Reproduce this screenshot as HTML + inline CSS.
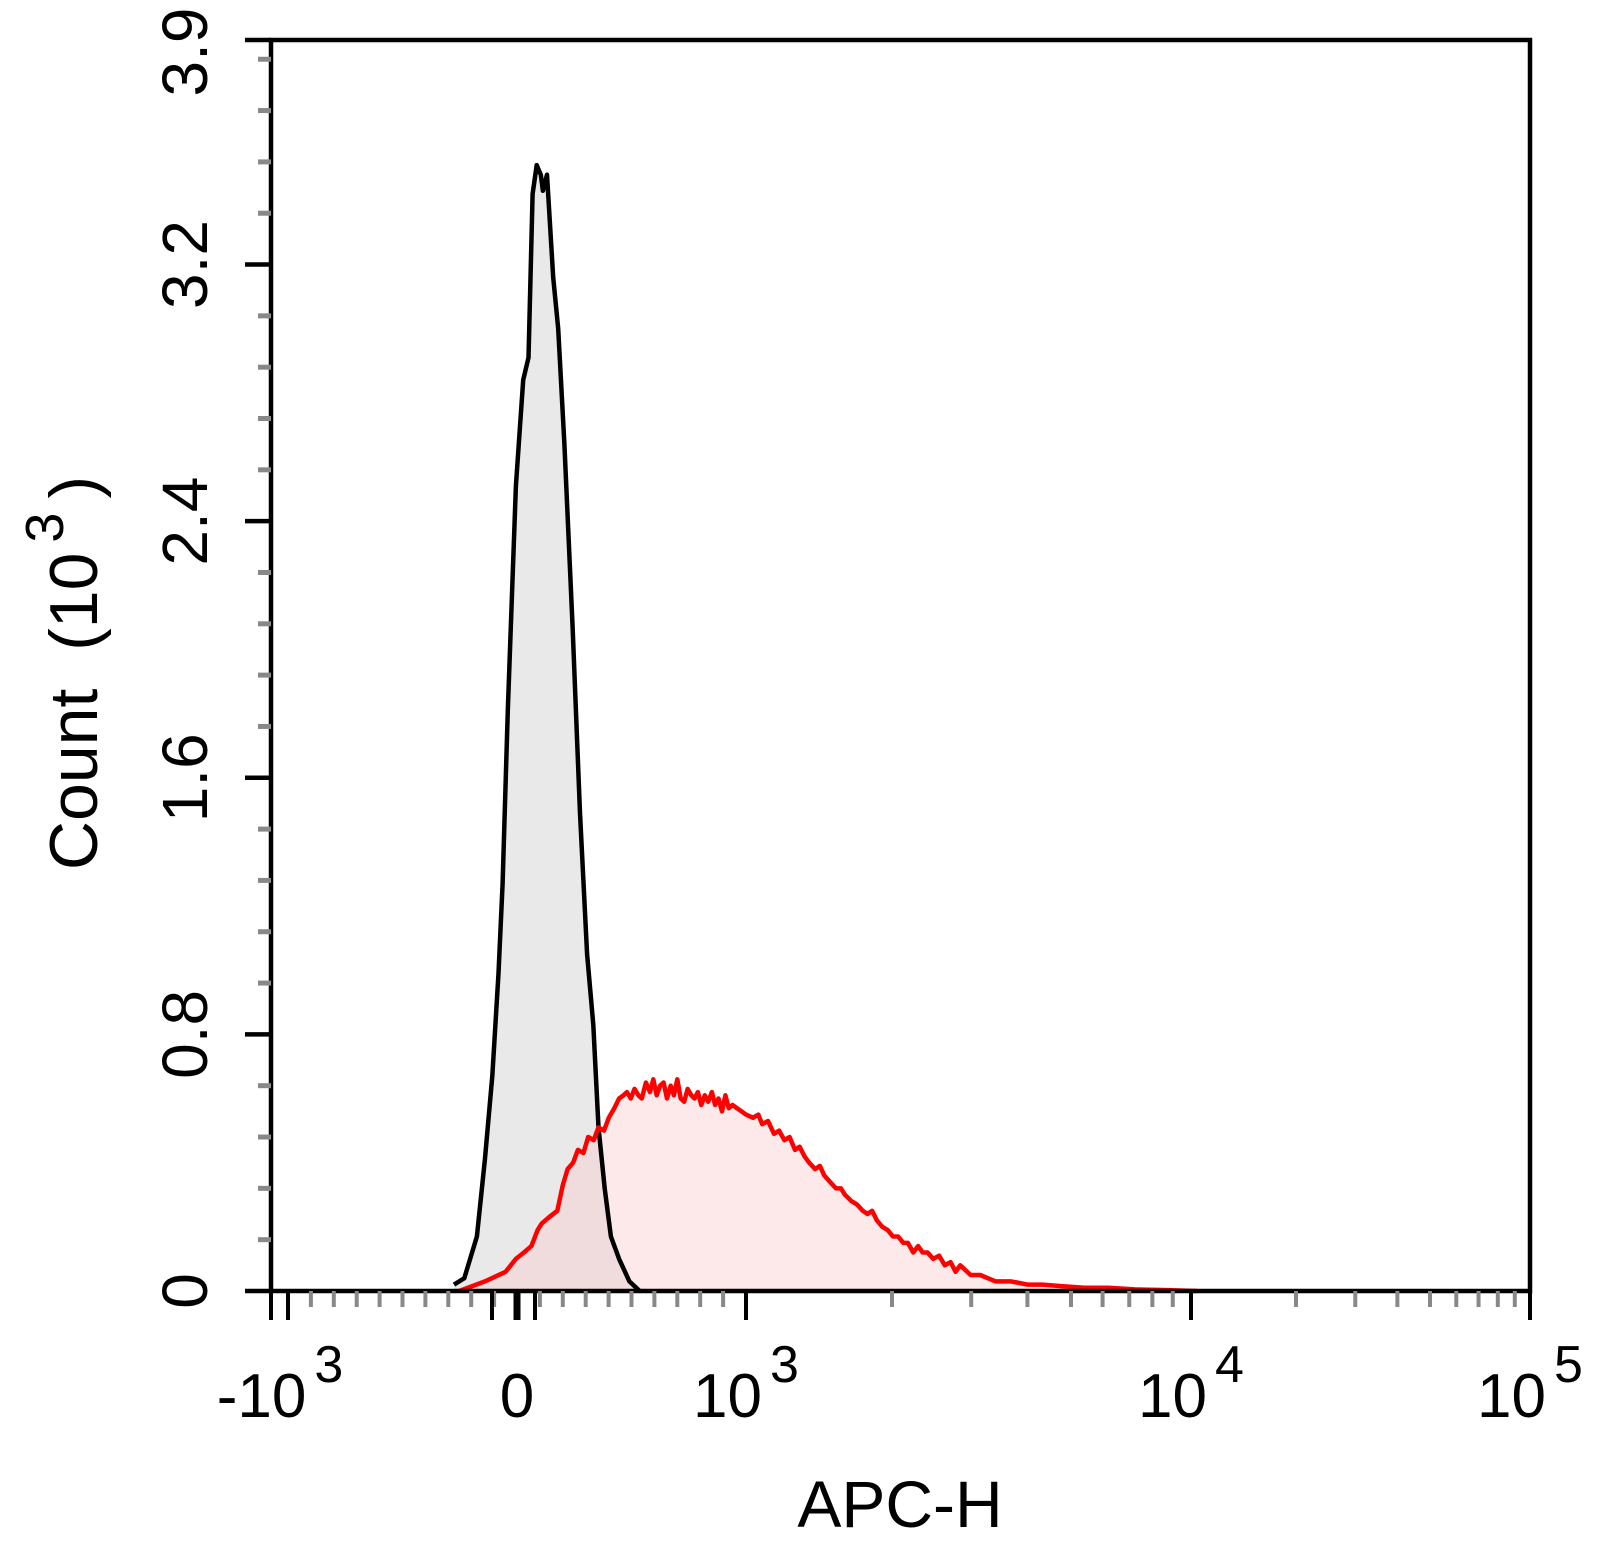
<!DOCTYPE html>
<html><head><meta charset="utf-8"><style>
html,body{margin:0;padding:0;background:#fff;}
svg{display:block;font-family:"Liberation Sans",Arial,sans-serif;}
</style></head><body>
<svg id="chart" width="1610" height="1558" viewBox="0 0 1610 1558" xmlns="http://www.w3.org/2000/svg">
<g id="fills"></g>
<g id="lines"></g>
<g id="axes"></g>
<g id="labels"></g>
</svg>
<script>
// ---- data ----
const blackX = [-275,-230,-175,-140,-108,-81,-63,-40,-5,27,50,68,86,104,113,131,158,180,207,243,275,306,333,356,383,410,446,491,536];
const blackY = [0.02,0.04,0.17,0.41,0.67,0.99,1.27,1.81,2.51,2.84,2.91,3.42,3.51,3.48,3.43,3.48,3.16,3.0,2.64,2.07,1.49,1.05,0.83,0.51,0.32,0.17,0.10,0.03,0.0];
const redX = [-252,-140,-50,-5,30,63,90,108,140,176,200,221,245,266,290,311,335,356,380,401,425,446,465,480,497,513,530,545,563,581,595,610,625,640,655,671,685,700,715,730,745,761,775,790,805,820,835,851,865,880,895,910,925,941,1000,1034,1060,1080,1110,1142,1170,1200,1230,1262,1290,1320,1350,1388,1420,1450,1490,1534,1570,1600,1650,1693,1740,1780,1820,1862,1910,1960,2010,2063,2120,2170,2230,2286,2340,2400,2470,2545,2620,2700,2770,2836,2990,3141,3400,3681,4000,4315,4800,5395,6200,7230,8500,10400];
const redY = [0,0.03,0.06,0.10,0.12,0.14,0.19,0.21,0.23,0.25,0.33,0.38,0.40,0.44,0.43,0.48,0.47,0.51,0.50,0.54,0.57,0.60,0.61,0.62,0.60,0.63,0.61,0.60,0.65,0.62,0.66,0.61,0.64,0.65,0.60,0.64,0.61,0.66,0.60,0.59,0.63,0.61,0.60,0.62,0.58,0.61,0.59,0.62,0.58,0.60,0.56,0.61,0.57,0.58,0.55,0.54,0.55,0.52,0.53,0.49,0.50,0.47,0.48,0.44,0.45,0.42,0.40,0.38,0.39,0.36,0.34,0.32,0.32,0.30,0.28,0.27,0.25,0.24,0.25,0.22,0.20,0.19,0.17,0.17,0.15,0.15,0.12,0.14,0.12,0.12,0.10,0.11,0.08,0.09,0.06,0.08,0.05,0.05,0.03,0.03,0.02,0.02,0.015,0.01,0.01,0.005,0.003,0];
const yTicks = [0,0.8,1.6,2.4,3.2];
const yTickLabels = ["0","0.8","1.6","2.4","3.2"];
const xMajor = [-1000,0,1000,10000,100000];
const xMajorBase = ["-10","0","10","10","10"];
const xMajorExp = ["3","","3","4","5"];
const xMinor = [-900,-800,-700,-600,-500,-400,-300,-200,-100,100,200,300,400,500,600,700,800,900,2000,3000,4000,5000,6000,7000,8000,9000,20000,30000,40000,50000,60000,70000,80000,90000];

// ---- scales ----
const X0=271, X1=1530, Y0=1291, Y1=40, YMAX=3.9;
const logAnchors=[[3,746],[Math.log10(2000),892],[Math.log10(5000),1071],[4,1191],[Math.log10(20000),1296],[Math.log10(50000),1430],[5,1530]];
function xs(v){
  if(v<=1000) return 517+v*0.229;
  const l=Math.log10(v);
  for(let i=0;i<logAnchors.length-1;i++){
    const a=logAnchors[i],b=logAnchors[i+1];
    if(l<=b[0]) return a[1]+(l-a[0])/(b[0]-a[0])*(b[1]-a[1]);
  }
  return X1;
}
function ys(v){return Y0-(v/YMAX)*(Y0-Y1);}
const NS="http://www.w3.org/2000/svg";
function mk(tag,attrs,parent){const e=document.createElementNS(NS,tag);for(const k in attrs)e.setAttribute(k,attrs[k]);parent.appendChild(e);return e;}
const gF=document.getElementById('fills'),gL=document.getElementById('lines'),gA=document.getElementById('axes'),gT=document.getElementById('labels');

function series(xa,ya,fill,stroke,name){
  let d='M'+xs(xa[0]).toFixed(1)+','+Y0;
  for(let i=0;i<xa.length;i++) d+=' L'+xs(xa[i]).toFixed(1)+','+ys(ya[i]).toFixed(1);
  d+=' L'+xs(xa[xa.length-1]).toFixed(1)+','+Y0+' Z';
  const f=mk('path',{d:d,fill:fill,stroke:'none'},gF);
  
  
  let d2='';
  for(let i=0;i<xa.length;i++) d2+=(i?' L':'M')+xs(xa[i]).toFixed(1)+','+ys(ya[i]).toFixed(1);
  const l=mk('path',{d:d2,fill:'none',stroke:stroke,'stroke-width':4.5,'stroke-linejoin':'round'},gL);
  
  
}
series(blackX,blackY,'rgba(200,200,200,0.4)','#000','control-histogram');
series(redX,redY,'rgba(250,200,200,0.4)','#f00','sample-histogram');

// frame
const fr=mk('rect',{x:X0,y:Y1,width:X1-X0,height:Y0-Y1,fill:'none',stroke:'#000','stroke-width':4.5},gA);


mk('line',{x1:245,y1:Y1,x2:X0,y2:Y1,stroke:'#000','stroke-width':4.5},gA);
mk('line',{x1:X0,y1:Y0,x2:X0,y2:1320,stroke:'#000','stroke-width':4},gA);
mk('line',{x1:X1,y1:Y0,x2:X1,y2:1320,stroke:'#000','stroke-width':4},gA);

// y ticks
for(let i=0;i<yTicks.length;i++){
  const y=ys(yTicks[i]);
  mk('line',{x1:245,y1:y,x2:X0,y2:y,stroke:'#000','stroke-width':4.5},gA);
  const t=mk('text',{x:0,y:0,'font-size':64,'text-anchor':'middle',transform:'translate(207,'+y+') rotate(-90)'},gT);
  t.textContent=yTickLabels[i];
  
  
}
const t39=mk('text',{x:0,y:0,'font-size':64,'text-anchor':'middle',transform:'translate(207,52) rotate(-90)'},gT);
t39.textContent='3.9';


for(let v=0.16;v<YMAX;v+=0.16){
  if(Math.abs(v/0.8-Math.round(v/0.8))<0.01) continue;
  mk('line',{x1:258,y1:ys(v),x2:X0,y2:ys(v),stroke:'#888','stroke-width':5},gA);
}
// x ticks
for(const v of xMinor){
  mk('line',{x1:xs(v),y1:Y0,x2:xs(v),y2:1307,stroke:'#888','stroke-width':4},gA);
}
for(let i=0;i<xMajor.length;i++){
  const x=xs(xMajor[i]);
  mk('line',{x1:x,y1:Y0,x2:x,y2:1320,stroke:'#000','stroke-width':xMajor[i]===0?7:4},gA);
  const t=mk('text',{x:x-(xMajor[i]<0?8:0),y:1417,'font-size':62,'text-anchor':'middle'},gT);
  
  
  t.textContent=xMajorBase[i];
  if(xMajorExp[i]){
    const s=mk('tspan',{dx:8,dy:-35,'font-size':52},t);
    s.textContent=xMajorExp[i];
  }
}
mk('line',{x1:492,y1:Y0,x2:492,y2:1320,stroke:'#000','stroke-width':4},gA);
mk('line',{x1:535,y1:Y0,x2:535,y2:1320,stroke:'#000','stroke-width':4},gA);
</script>
<svg style="position:absolute;left:0;top:0" width="1610" height="1558" xmlns="http://www.w3.org/2000/svg">
<text x="900" y="1527" font-size="66" text-anchor="middle" font-family="Liberation Sans, Arial, sans-serif">APC-H</text>
<text transform="translate(97,673) rotate(-90)" font-size="68" text-anchor="middle" font-family="Liberation Sans, Arial, sans-serif" xml:space="preserve">Count  (10<tspan dx="10" dy="-34" font-size="54">3</tspan><tspan dx="14" dy="34">)</tspan></text>
</svg>
</body></html>
